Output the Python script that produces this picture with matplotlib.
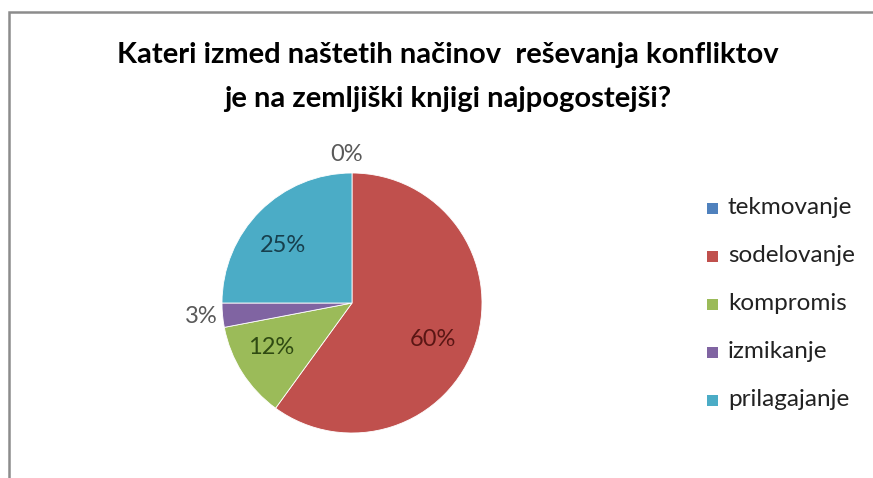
import numpy as np
import matplotlib
matplotlib.use("Agg")
import matplotlib.pyplot as plt
from matplotlib.patches import Rectangle

# Survey answers (share of respondents, %)
labels = ["tekmovanje", "sodelovanje", "kompromis", "izmikanje", "prilagajanje"]
values = [0, 60, 12, 3, 25]
colors = ["#4F81BD", "#C0504D", "#9BBB59", "#8064A2", "#4BACC6"]
label_colors = ["#595959", "#5a1614", "#2f4a12", "#595959", "#173f4d"]

title = ("Kateri izmed naštetih načinov  reševanja konfliktov\n"
         "je na zemljiški knjigi najpogostejši?")

plt.rcParams["font.family"] = ["Lato", "DejaVu Sans"]

W, H = 873, 478
fig = plt.figure(figsize=(W / 100, H / 100), dpi=100)

# gray chart-area frame (open to the right and bottom)
fig.patches.append(Rectangle((9 / W, -0.1), 1.2, 1.1 - 12 / H,
                             transform=fig.transFigure, fill=False,
                             edgecolor="#8c8c8c", linewidth=1.8))

fig.text(448 / W, 1 - 77 / H, title, ha="center", va="center",
         fontsize=21, fontweight="bold", color="black", linespacing=1.85)

# pie: centre at (352, 303) px, radius 130 px
r_px = 130
cx, cy = 352, 303
ax = fig.add_axes([(cx - r_px) / W, 1 - (cy + r_px) / H,
                   2 * r_px / W, 2 * r_px / H])
wedges, _ = ax.pie(values, colors=colors, startangle=90, counterclock=False,
                   radius=1.0, wedgeprops=dict(linewidth=0.6, edgecolor="white"))
ax.set_xlim(-1, 1)
ax.set_ylim(-1, 1)
ax.set_aspect("equal")
ax.axis("off")

# label positions (radius, angle in degrees) per slice
label_pos = [(1.14, 92), (0.685, -24.5), (0.71, 209), (1.16, 185), (0.69, 140)]
total = sum(values)
for v, (rr, ang), c in zip(values, label_pos, label_colors):
    a = np.deg2rad(ang)
    ax.text(rr * np.cos(a), rr * np.sin(a), f"{round(100 * v / total)}%",
            ha="center", va="center", fontsize=17, color=c, clip_on=False)

# legend
sq = 11
for i, (lab, col) in enumerate(zip(labels, colors)):
    y = 1 - (208 + i * 48) / H
    fig.patches.append(Rectangle((707 / W, y - sq / 2 / H), sq / W, sq / H,
                                 transform=fig.transFigure, facecolor=col,
                                 edgecolor="none"))
    fig.text(728 / W, y, lab, ha="left", va="center",
             fontsize=17.5, color="#222222")

fig.savefig("out.png", dpi=100)
